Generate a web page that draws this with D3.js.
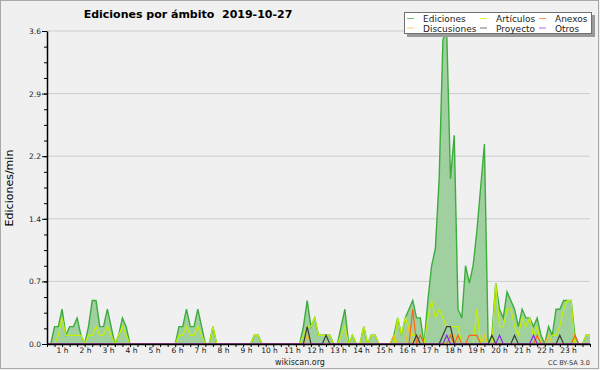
<!DOCTYPE html>
<html>
<head>
<meta charset="utf-8">
<script src="https://cdn.jsdelivr.net/npm/d3@7"></script>
<style>
  body { margin: 0; background: #f0f0f0; }
  svg text { font-family: "DejaVu Sans", sans-serif; }
</style>
</head>
<body>
<svg id="chart" width="600" height="370"></svg>
<script>
// --- data (10 minute steps, 00:00 -> 24:00) ---
const title = "Ediciones por ámbito  2019-10-27";
const yTitle = "Ediciones/min";
const hourLabels = d3.range(1, 24).map(h => h + " h");
const yTicks = [0, 0.72, 1.44, 2.16, 2.88, 3.6];
const seriesNames = ["Ediciones", "Artículos", "Anexos", "Discusiones", "Proyecto", "Otros"];
const seriesColors = ["#3cad3c", "#c4ef00", "#ff6411", "#f4c21c", "#3a3a3a", "#8f22ee"];

const ediciones = [
  0,0,0.2,0.2,0.4,0.1,0.2,0.2,0.3,0.1,
  0,0.2,0.5,0.5,0.2,0.2,0.4,0.2,0,0.1,
  0.3,0.2,0,0,0,0,0,0,0,0,
  0,0,0,0,0,0.2,0.2,0.4,0.2,0.2,
  0.4,0.2,0,0,0.2,0,0,0,0,0,
  0,0,0,0,0,0.1,0.1,0,0,0,
  0,0,0,0,0,0,0,0,0.2,0.5,
  0.2,0.3,0.1,0.1,0.1,0.1,0,0,0.2,0.4,
  0,0.1,0,0,0.2,0,0.1,0.1,0,0,
  0,0,0.1,0.3,0.1,0.3,0.4,0.5,0.3,0.3,
  0,0.5,0.9,1.1,1.9,3.5,3.6,1.9,2.4,0.4,
  0.3,0.9,0.7,0.9,1.3,1.8,2.3,0,0.1,0.7,
  0.4,0.3,0.6,0.5,0.4,0.2,0.4,0.3,0.3,0.2,
  0.3,0.1,0,0.2,0.1,0.4,0.4,0.5,0.5,0.5,
  0.1,0,0,0.1,0.1
];
const articulos = [
  0,0,0,0.1,0.3,0.1,0.1,0.1,0.1,0.1,
  0,0.1,0.1,0.2,0.1,0.1,0.2,0.1,0,0.1,
  0.2,0.1,0,0,0,0,0,0,0,0,
  0,0,0,0,0,0.1,0.1,0.2,0.1,0.1,
  0.2,0.1,0,0,0.2,0,0,0,0,0,
  0,0,0,0,0,0.1,0.1,0,0,0,
  0,0,0,0,0,0,0,0,0.1,0.2,
  0.2,0.3,0.1,0.1,0.1,0.1,0,0,0.1,0.2,
  0,0.1,0,0,0.2,0,0.1,0.1,0,0,
  0,0,0,0.3,0.1,0.3,0.2,0.1,0.1,0,
  0,0.3,0.5,0.3,0.4,0.3,0.2,0.2,0.2,0.2,
  0,0,0,0,0.4,0,0.1,0,0,0.7,
  0.2,0.2,0.4,0.4,0.2,0.1,0.3,0.2,0.3,0.1,
  0.2,0,0,0,0.1,0.1,0.2,0.4,0.5,0.5,
  0,0,0,0.1,0.1
];
const anexos = [
  0,0,0,0,0,0,0,0,0,0,
  0,0,0,0,0,0,0,0,0,0,
  0,0,0,0,0,0,0,0,0,0,
  0,0,0,0,0,0,0,0,0,0,
  0,0,0,0,0,0,0,0,0,0,
  0,0,0,0,0,0,0,0,0,0,
  0,0,0,0,0,0,0,0,0,0,
  0,0,0,0,0,0,0,0,0,0,
  0,0,0,0,0,0,0,0,0,0,
  0,0,0,0,0,0,0,0.4,0,0.1,
  0,0,0,0,0,0,0,0.1,0,0.1,
  0,0,0.1,0.1,0.1,0,0,0,0,0,
  0,0,0,0,0,0,0,0,0,0,
  0.1,0,0,0,0,0,0,0,0,0,
  0.1,0,0,0,0
];
const discusiones = [
  0,0,0,0,0,0,0,0,0,0,
  0,0,0,0,0,0,0,0,0,0,
  0,0,0,0,0,0,0,0,0,0,
  0,0,0,0,0,0,0,0,0,0,
  0,0,0,0,0,0,0,0,0,0,
  0,0,0,0,0,0,0,0,0,0,
  0,0,0,0,0,0,0,0,0,0.1,
  0,0,0,0,0,0,0,0,0,0,
  0,0,0,0,0,0,0,0,0,0,
  0,0,0.1,0,0,0,0.2,0,0,0,
  0,0,0,0,0,0,0,0,0.1,0,
  0,0,0,0,0,0,0.1,0,0,0,
  0,0,0,0,0,0,0,0,0,0,
  0,0,0,0.1,0,0,0,0,0,0,
  0,0,0,0,0
];
const proyecto = [
  0,0,0,0,0,0,0,0,0,0,
  0,0,0,0,0,0,0,0,0,0,
  0,0,0,0,0,0,0,0,0,0,
  0,0,0,0,0,0,0,0,0,0,
  0,0,0,0,0,0,0,0,0,0,
  0,0,0,0,0,0,0,0,0,0,
  0,0,0,0,0,0,0,0,0,0.2,
  0,0,0,0,0.1,0,0,0,0,0,
  0,0,0,0,0,0,0,0,0,0,
  0,0,0,0,0,0,0,0,0.1,0,
  0,0,0,0,0,0.1,0.2,0.2,0,0,
  0,0,0,0,0,0,0,0,0.1,0,
  0,0,0,0,0.1,0,0,0,0,0,
  0,0,0,0,0,0,0.1,0,0,0,
  0,0,0,0,0
];
const otros = [
  0,0,0,0,0,0,0,0,0,0,
  0,0,0,0,0,0,0,0,0,0,
  0,0,0,0,0,0,0,0,0,0,
  0,0,0,0,0,0,0,0,0,0,
  0,0,0,0,0,0,0,0,0,0,
  0,0,0,0,0,0,0,0,0,0,
  0,0,0,0,0,0,0,0,0,0,
  0,0,0,0,0,0,0,0,0,0,
  0,0,0,0,0,0,0,0,0,0,
  0,0,0,0,0,0,0,0,0,0,
  0,0,0,0,0,0,0.1,0,0,0,
  0,0,0,0,0,0,0,0,0,0,
  0.1,0,0,0,0,0,0,0,0,0.1,
  0,0,0,0,0,0,0,0,0,0,
  0,0,0,0,0
];

const svg = d3.select("#chart");

// background + frame
svg.append("rect").attr("x", 0.5).attr("y", 0.5).attr("width", 598).attr("height", 368)
    .attr("fill", "#f0f0f0").attr("stroke", "#a8a8a8");

const x = d3.scaleLinear().domain([0, 1440]).range([47, 590]);
const y = d3.scaleLinear().domain([0, 3.6]).range([344, 31]);
const labelX = d3.scaleLinear().domain([1, 23]).range([62.5, 568.5]); // hour labels sit a bit off the ticks

// grid
svg.append("g").selectAll("line")
    .data(yTicks.slice(1))
    .enter().append("line")
    .attr("x1", x(0)).attr("x2", x(1440))
    .attr("y1", d => y(d)).attr("y2", d => y(d))
    .attr("stroke", "#cccccc").attr("stroke-width", 1);

// Ediciones area
const stepX = (d, i) => x(i * 10);
svg.append("path")
    .datum(ediciones)
    .attr("fill", "#a0d0a0")
    .attr("d", d3.area().x(stepX).y0(y(0)).y1(d => y(d)));

const lineGen = d3.line().x(stepX).y(d => y(d));
const lineData = [ediciones, articulos, discusiones, anexos, proyecto, otros];
const lineColors = [seriesColors[0], seriesColors[1], seriesColors[3], seriesColors[2], seriesColors[4], seriesColors[5]];
svg.append("g").selectAll("path")
    .data(lineData)
    .enter().append("path")
    .attr("fill", "none")
    .attr("stroke", (d, i) => lineColors[i])
    .attr("stroke-width", (d, i) => i === 0 ? 1.4 : 1.2)
    .attr("stroke-linejoin", "miter")
    .attr("d", lineGen);

// y axis
const yAxis = svg.append("g").attr("transform", `translate(${x(0)},0)`)
    .call(d3.axisLeft(y).tickValues(yTicks).tickFormat(d3.format(".1f")).tickSize(5).tickSizeOuter(0).tickPadding(1));
svg.append("g").attr("transform", `translate(${x(0)},0)`)
    .call(d3.axisLeft(y).tickValues(d3.range(0.18, 3.6, 0.18)).tickFormat("").tickSize(3).tickSizeOuter(0))
    .select(".domain").remove();

// x axis
const xAxis = svg.append("g").attr("transform", `translate(0,${y(0)})`)
    .call(d3.axisBottom(x).tickValues(d3.range(0, 1441, 20)).tickFormat("").tickSize(3).tickSizeOuter(0));

svg.selectAll(".domain").attr("stroke", "#000").attr("stroke-width", 1.5);
svg.selectAll(".tick line").attr("stroke", "#000");
yAxis.selectAll("text").attr("font-size", "7.5px").attr("fill", "#222").attr("font-family", "DejaVu Sans");

svg.append("g").selectAll("text")
    .data(hourLabels)
    .enter().append("text")
    .attr("x", (d, i) => labelX(i + 1))
    .attr("y", 353)
    .attr("text-anchor", "middle")
    .attr("font-size", "7.5px")
    .attr("fill", "#111")
    .text(d => d);

// titles
svg.append("text")
    .attr("x", 188).attr("y", 18)
    .attr("text-anchor", "middle")
    .attr("font-size", "11px").attr("font-weight", "bold")
    .style("white-space", "pre")
    .text(title);

svg.append("text")
    .attr("transform", "translate(13,188) rotate(-90)")
    .attr("text-anchor", "middle")
    .attr("font-family", "DejaVu Sans Mono")
    .attr("font-size", "11px")
    .text(yTitle);

svg.append("text")
    .attr("x", 300).attr("y", 365)
    .attr("text-anchor", "middle")
    .attr("font-size", "8px").attr("fill", "#222")
    .text("wikiscan.org");

svg.append("text")
    .attr("x", 590).attr("y", 365)
    .attr("text-anchor", "end")
    .attr("font-size", "6.5px").attr("fill", "#333")
    .text("CC BY-SA 3.0");

// legend
const legend = svg.append("g");
legend.append("rect").attr("x", 407).attr("y", 15).attr("width", 188).attr("height", 22).attr("fill", "#9a9a9a");
legend.append("rect").attr("x", 404.5).attr("y", 12.5).attr("width", 187).attr("height", 21)
    .attr("fill", "#ffffff").attr("stroke", "#707070");
const colX = [407, 480, 539];
const rowY = [18.5, 28];
const items = legend.selectAll("g.item")
    .data(seriesNames)
    .enter().append("g").attr("class", "item")
    .attr("transform", (d, i) => `translate(${colX[i % 3]},${rowY[Math.floor(i / 3)]})`);
items.append("line").attr("x1", 0).attr("x2", 7).attr("y1", 0).attr("y2", 0)
    .attr("stroke", (d, i) => seriesColors[i]).attr("stroke-width", 1).attr("opacity", 0.7);
items.append("text").attr("x", 16).attr("y", 3.5)
    .attr("font-size", "9px").attr("fill", "#222")
    .text(d => d);
</script>
</body>
</html>
